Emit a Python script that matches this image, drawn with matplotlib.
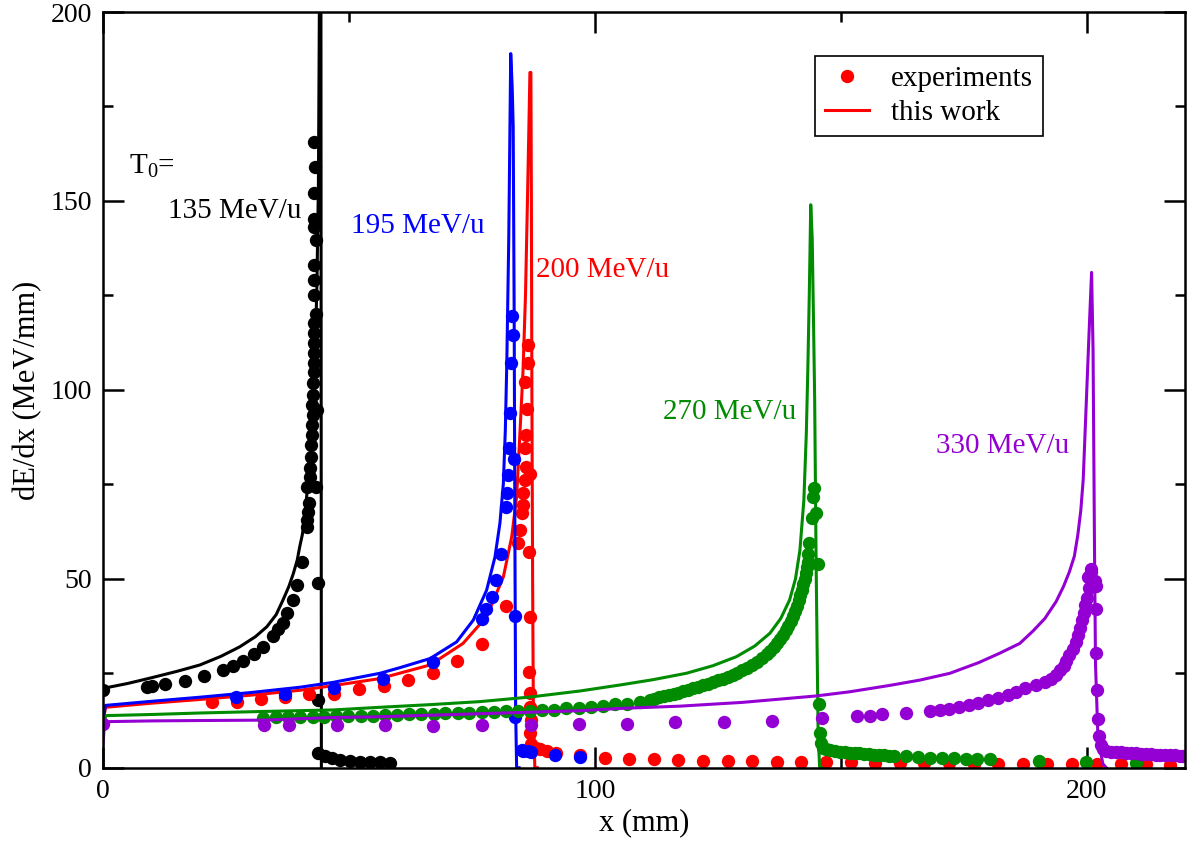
import matplotlib
matplotlib.use("Agg")
import matplotlib.pyplot as plt
from matplotlib.lines import Line2D
from matplotlib.ticker import MultipleLocator

plt.rcParams['font.family'] = ['Liberation Serif', 'DejaVu Serif']
plt.rcParams['mathtext.fontset'] = 'custom'
plt.rcParams['mathtext.rm'] = 'Liberation Serif'
plt.rcParams['mathtext.it'] = 'Liberation Serif:italic'

# ---- 135 MeV/u (black)
bk_line_x = [0, 5, 9.5, 15, 19.7, 24, 27.8, 31, 33.3, 35.2, 36.6, 37.8, 38.7, 39.5, 40.0, 40.5,
             40.9, 41.4, 42.0, 42.6, 43.1, 43.5, 43.8, 43.95, 44.1, 44.3, 44.4]
bk_line_y = [21.0, 22.3, 23.7, 25.5, 27.2, 29.5, 32.0, 34.7, 37.3, 40.5, 44.4, 48.0, 51.4, 55.0, 58.5, 61.5,
             64.7, 71.7, 80, 92, 108, 128, 155, 190, 230, 230, 0]
bk_dot_x = [0.1, 8.9, 9.9, 12.6, 16.7, 20.5, 24.5, 26.5, 28.5, 30.6, 32.5, 34.5, 35.6, 36.5, 37.5, 38.6,
            39.5, 40.4, 41.4, 41.5, 41.7, 41.9, 41.5, 43.4, 42.1, 42.1, 42.2, 42.3, 42.4, 42.4, 42.6, 43.6,
            42.5, 42.7, 42.7, 42.8, 42.8, 42.8, 42.8, 42.8, 42.8, 43.4, 42.8, 42.9, 43.3, 42.9, 42.9, 43.0,
            43.0, 43.2, 43.0, 43.8, 43.8, 43.8, 45.1, 46.5, 48.2, 50.2, 52.2, 54.2, 56.3, 58.3]
bk_dot_y = [20.6, 21.4, 21.6, 22.1, 22.9, 24.3, 26.0, 27.0, 28.3, 30.0, 32.0, 34.8, 36.6, 38.4, 41.0, 44.4,
            48.3, 54.5, 63.8, 65.5, 67.7, 70.0, 74.3, 74.3, 77.0, 79.2, 82.3, 85.4, 88.0, 90.6, 93.3, 94.6,
            96.0, 98.6, 101.7, 104.8, 107.0, 109.7, 112.4, 115.0, 117.7, 120.2, 125.0, 129.0, 139.6, 133.0, 143.0, 145.3,
            152.0, 159.0, 165.6, 49.0, 17.9, 3.8, 3.1, 2.6, 2.0, 1.8, 1.6, 1.5, 1.4, 1.3]

# ---- 200 MeV/u (red)
rd_line_x = [0, 0.2, 0.5, 10, 20, 30, 40, 46.1, 56.3, 66.5, 73.2, 78.0, 81.4, 83.1, 84.1, 84.8,
             85.4, 85.9, 86.3, 86.6, 86.8, 87.0, 87.1, 87.2, 87.35, 87.5, 87.8, 88.3]
rd_line_y = [10, 13.5, 16.0, 17.1, 18.1, 19.2, 20.5, 21.6, 23.6, 27.2, 32.9, 40.0, 50.5, 61.1, 71.7, 89.3,
             105, 125, 150, 170, 184, 184, 150, 100, 50, 15, 0, 0]
rd_dot_x = [22.1, 27.2, 32.1, 37.1, 41.9, 47.0, 52.0, 57.1, 62.1, 67.0, 72.0, 77.0, 81.9,
            84.4, 84.8, 85.1, 85.3, 85.4, 85.8, 86.8, 86.1, 85.8, 86.0, 86.3, 85.8, 86.4, 86.5,
            86.7, 86.8, 86.7, 86.8, 86.9, 87.0, 86.9, 87.1, 88.1, 88.8, 90.2, 92.2,
            97, 102, 107, 112, 117, 122, 127, 132, 137, 142, 147, 152, 157, 162, 167, 172,
            177, 182, 187, 192, 197, 202, 207, 212, 217]
rd_dot_y = [17.5, 17.5, 18.1, 18.6, 19.4, 19.5, 20.8, 21.7, 23.2, 25.1, 28.2, 32.7, 42.8,
            59.4, 62.9, 67.3, 69.6, 72.6, 76.1, 77.7, 79.6, 84.5, 88.0, 94.9, 102.0, 107.1, 112.0,
            57.1, 39.8, 25.4, 19.7, 16.2, 12.6, 9.1, 6.4, 5.1, 4.9, 4.5, 3.9,
            3.3, 2.7, 2.4, 2.2, 2.0, 1.9, 1.8, 1.7, 1.6, 1.5, 1.5, 1.4, 1.3, 1.3, 1.2, 1.2,
            1.1, 1.1, 1.0, 1.0, 1.0, 0.9, 0.9, 0.9, 0.8]

# ---- 195 MeV/u (blue)
bl_line_x = [0, 0.2, 0.5, 10, 20, 30, 40, 46.8, 56.3, 60.4, 66.5, 71.9, 75.3, 78.0, 79.7, 80.7,
             81.4, 81.8, 82.1, 82.5, 82.9, 83.2, 83.4, 83.6, 83.75, 83.9, 84.1, 84.6]
bl_line_y = [10, 14, 16.5, 17.6, 18.7, 19.9, 21.3, 22.6, 25.0, 26.5, 28.9, 33.3, 39.1, 47.0, 55.8, 64.7,
             75.2, 89.3, 107, 140, 189, 180, 169.6, 120, 60, 15, 0, 0]
bl_dot_x = [27.0, 37.0, 47.0, 57.0, 67.0, 77.0, 77.8, 79.0, 79.9, 80.9, 81.9, 82.2, 82.4, 83.6, 82.6,
            82.7, 82.9, 83.4, 83.1, 83.7, 83.7, 85.1, 85.4, 86.4, 87.1, 91.9, 97.0]
bl_dot_y = [18.8, 19.5, 21.1, 23.6, 27.9, 39.4, 42.1, 45.2, 49.8, 56.5, 68.9, 72.6, 77.6, 81.6, 84.5,
            93.9, 107.2, 114.6, 119.5, 40.2, 13.5, 4.7, 4.4, 4.4, 4.2, 3.4, 2.9]

# ---- 270 MeV/u (green)
gr_line_x = [0, 0.2, 0.6, 10, 20, 32.6, 46.8, 56.3, 66.5, 76.6, 86.7, 96.9, 105.1, 111.8, 118.6, 124,
             128.8, 132.5, 135.6, 137.8, 139.6, 140.8, 141.7, 142.5, 143.0, 143.3, 143.6, 143.9, 144.2,
             144.5, 144.7, 145.0, 145.4, 145.7, 146.2]
gr_line_y = [9, 12, 13.8, 14.1, 14.5, 14.9, 15.3, 16.0, 16.7, 17.5, 18.7, 20.3, 21.9, 23.3, 25.0, 27.0,
             29.4, 32.2, 35.6, 39.5, 44.4, 50, 57.6, 70.8, 88.5, 105, 125, 149, 140,
             115, 97.3, 53.2, 9.1, 0.3, 0]
gr_dot_x = [32.6, 35.1, 37.6, 40.1, 42.7, 45.0, 47.4, 49.9, 52.4, 54.9, 57.4, 59.8, 62.3, 64.7, 67.2,
            69.6, 72.1, 74.5, 77.0, 79.4, 81.9, 84.3, 86.8, 89.2, 91.7, 94.2, 96.8, 99.3, 101.7, 104.2,
            106.6, 109.1,
            111.2, 112, 113, 114, 115, 116, 117, 118, 119, 120, 121, 122, 123, 124, 125, 126, 127, 128,
            129, 130, 131, 132, 133, 134, 135, 135.7, 136.4, 137, 137.6, 138.2, 138.8, 139.3, 139.8,
            140.3, 140.7, 141.1, 141.5, 141.8, 142.1, 142.4, 142.7, 142.9, 143.1, 143.3, 143.4, 143.6,
            144.1, 144.3, 144.6, 145.0, 145.4, 145.6, 145.7, 146.0, 146.4, 147.0, 147.8, 148.8, 149.8,
            150.8, 151.8, 152.8, 153.8, 154.8, 155.8, 156.8, 157.8, 158.8, 159.8, 160.8, 163.2, 165.7,
            168.1, 170.6, 173.0, 175.4, 177.8, 180.3, 190.4, 199.9, 210.1]
gr_dot_y = [13.2, 13.3, 13.4, 13.4, 13.5, 13.5, 13.6, 13.7, 13.8, 13.8, 13.9, 14.0, 14.1, 14.2, 14.3,
            14.4, 14.5, 14.6, 14.7, 14.8, 14.9, 15.0, 15.1, 15.2, 15.4, 15.7, 15.9, 16.1, 16.4, 16.8,
            17.0, 17.3,
            17.9, 18.2, 18.6, 18.9, 19.2, 19.5, 19.9, 20.2, 20.6, 21.0, 21.4, 21.8, 22.2, 22.6, 23.1, 23.6,
            24.1, 24.6, 25.2, 25.8, 26.5, 27.3, 28.1, 29.1, 30.1, 31.0, 32.0, 32.9, 34.0, 35.2, 36.4, 37.6,
            38.8, 40.1, 41.5, 42.9, 44.3, 45.7, 47.1, 48.5, 50.0, 51.5, 53.0, 54.5, 56.5, 59.5,
            66.2, 71.7, 74.1, 67.5, 53.9, 16.9, 9.1, 6.5, 5.1, 4.9, 4.7, 4.5, 4.3,
            4.1, 4.0, 3.9, 3.8, 3.7, 3.6, 3.5, 3.4, 3.3, 3.2, 3.2, 3.1, 2.9,
            2.7, 2.6, 2.5, 2.4, 2.3, 2.2, 1.7, 1.4, 1.2]

# ---- 330 MeV/u (purple)
pu_line_x = [0, 0.2, 0.7, 10, 20, 32.6, 46.8, 56.3, 76.6, 96.9, 105.1, 117.3, 130, 145, 151.8, 160,
             166.1, 172.2, 178, 182.3, 186.4, 189.1, 191.5, 193.8, 195.3, 196.5, 197.5, 198.2, 198.8,
             199.3, 199.9, 200.5, 201.0, 201.3, 201.6, 201.8, 202.3, 203.3, 204]
pu_line_y = [6, 10, 12.2, 12.4, 12.5, 12.6, 13.3, 13.5, 14.3, 15.1, 15.7, 16.3, 17.3, 19.0, 20.1, 21.8,
             23.2, 25.0, 27.8, 30.3, 32.9, 36.2, 39.5, 44.0, 48, 51.9, 56, 61.6, 68,
             76.3, 95.9, 115.5, 131.1, 110.6, 56.8, 27.4, 7.8, 1.0, 0]
pu_dot_x = [0.1, 32.7, 37.8, 47.5, 57.3, 67.1, 77.1, 87.0, 96.8, 106.6, 116.4, 126.3, 136.1, 146.1,
            153.4, 155.9, 158.3, 163.2, 168.2,
            170.2, 172, 174, 176, 178, 180, 182, 184, 185.7, 187.5, 189.8, 191.5, 192.8, 193.8, 194.6,
            195.3, 195.9, 196.5, 197.2, 197.8, 198.3, 198.7, 199.1, 199.4, 199.7, 200.1, 200.4, 200.2,
            200.8, 200.9, 201.7, 201.9, 201.9, 201.9, 202.0, 202.3, 202.6, 202.9, 203.3, 204.0, 205,
            206, 207, 208, 209, 210, 211, 212, 213, 214, 215, 216, 217, 218, 219, 219.6]
pu_dot_y = [11.6, 11.3, 11.3, 11.3, 11.2, 11.1, 11.3, 11.3, 11.6, 11.7, 12.0, 12.2, 12.4, 13.1,
            13.6, 13.8, 14.1, 14.5, 15.1,
            15.2, 15.6, 16.1, 16.6, 17.2, 17.8, 18.5, 19.3, 20.1, 21.0, 22.0, 22.7, 23.6, 24.6, 25.8,
            27.0, 28.3, 29.8, 31.3, 33.2, 35.0, 37.0, 39.0, 41.0, 43.0, 45.0, 47.5, 50.4,
            51.9, 52.5, 49.5, 48.1, 42.1, 30.3, 20.7, 12.9, 8.5, 5.9, 4.9, 4.4, 4.3,
            4.2, 4.1, 4.0, 3.9, 3.8, 3.7, 3.6, 3.6, 3.5, 3.4, 3.4, 3.3, 3.3, 3.2, 3.2]

green = '#008b00'
purple = '#9400d3'
ms = 9.6
lw = 2.2

fig = plt.figure(figsize=(11.88, 8.41), dpi=100)
ax = fig.add_axes([0.0867, 0.0871, 0.9108, 0.8986])

series = [
    (bk_dot_x, bk_dot_y, bk_line_x, bk_line_y, 'black'),
    (rd_dot_x, rd_dot_y, rd_line_x, rd_line_y, 'red'),
    (bl_dot_x, bl_dot_y, bl_line_x, bl_line_y, 'blue'),
    (gr_dot_x, gr_dot_y, gr_line_x, gr_line_y, green),
    (pu_dot_x, pu_dot_y, pu_line_x, pu_line_y, purple),
]
for dx, dy, lx, ly, c in series:
    ax.plot(dx, dy, 'o', color=c, ms=ms, mew=0)
    ax.plot(lx, ly, '-', color=c, lw=lw)

ax.set_xlim(0, 220)
ax.set_ylim(0, 200)
ax.xaxis.set_major_locator(MultipleLocator(100))
ax.xaxis.set_minor_locator(MultipleLocator(50))
ax.yaxis.set_major_locator(MultipleLocator(50))
ax.yaxis.set_minor_locator(MultipleLocator(25))
ax.tick_params(which='both', direction='in', top=True, right=True, width=1.8, labelsize=20, pad=8)
ax.tick_params(which='major', length=15)
ax.tick_params(which='minor', length=7.5)
for s in ax.spines.values():
    s.set_linewidth(1.8)

ax.set_xlabel('x (mm)', fontsize=22, labelpad=3)
ax.set_ylabel('dE/dx (MeV/mm)', fontsize=22, labelpad=6)

tfs = 21
ax.text(5.2, 157.2, r'T$_0$=', fontsize=tfs, ha='left', va='baseline')
ax.text(13.2, 145.4, '135 MeV/u', fontsize=tfs, color='black', ha='left', va='baseline')
ax.text(50.5, 141.4, '195 MeV/u', fontsize=tfs, color='blue', ha='left', va='baseline')
ax.text(88.0, 129.9, '200 MeV/u', fontsize=tfs, color='red', ha='left', va='baseline')
ax.text(113.9, 92.4, '270 MeV/u', fontsize=tfs, color=green, ha='left', va='baseline')
ax.text(169.4, 83.2, '330 MeV/u', fontsize=tfs, color=purple, ha='left', va='baseline')

handles = [Line2D([], [], ls='none', marker='o', color='red', ms=ms, mew=0),
           Line2D([], [], ls='-', color='red', lw=lw)]
leg = ax.legend(handles, ['experiments', 'this work'], loc='upper left',
                bbox_to_anchor=(0.658, 0.942), borderaxespad=0, fontsize=tfs,
                frameon=True, fancybox=False, framealpha=1, edgecolor='black',
                handlelength=1.5, handletextpad=0.75, labelspacing=0.25, borderpad=0.35)
leg.get_frame().set_linewidth(1.2)

fig.savefig('out.png', dpi=100)
